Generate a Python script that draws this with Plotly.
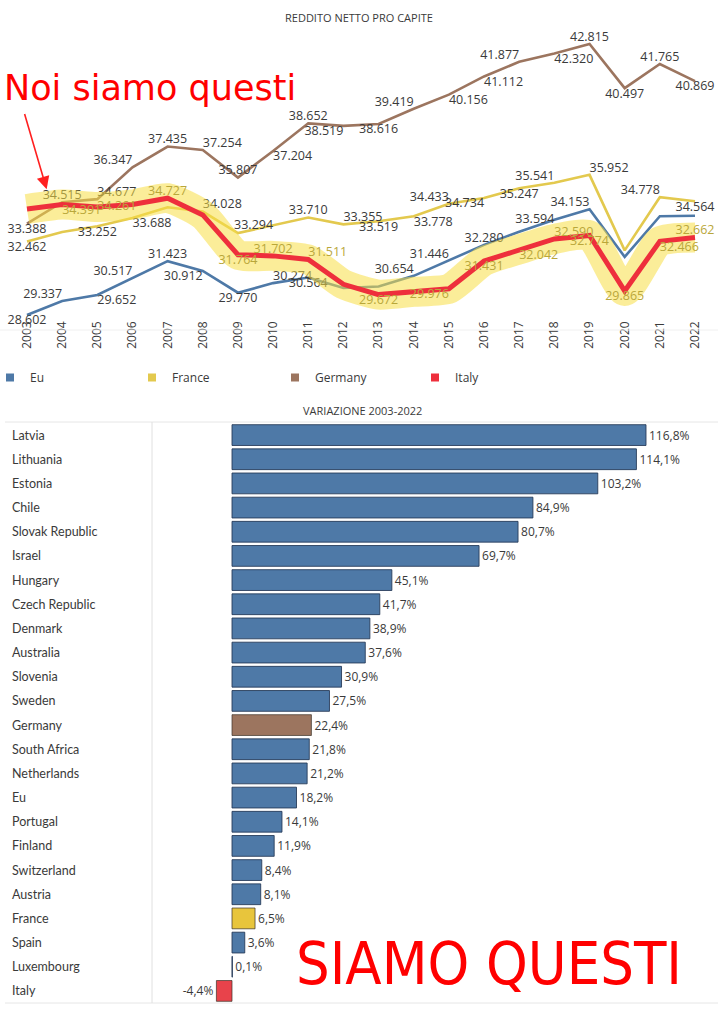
import plotly.graph_objects as go

# ---------------- data: line chart ----------------
years = [2003, 2004, 2005, 2006, 2007, 2008, 2009, 2010, 2011, 2012,
         2013, 2014, 2015, 2016, 2017, 2018, 2019, 2020, 2021, 2022]
eu = [28.602, 29.337, 29.652, 30.517, 31.423, 30.912, 29.770, 30.274, 30.564, 30.02,
      30.10, 30.654, 31.446, 32.280, 32.97, 33.594, 34.153, 31.65, 33.78, 33.81]
france = [32.462, 32.95, 33.252, 33.688, 34.25, 34.028, 32.90, 33.294, 33.710, 33.355,
          33.519, 33.778, 34.433, 34.734, 35.247, 35.541, 35.952, 31.99, 34.778, 34.564]
germany = [33.388, 34.515, 34.677, 36.347, 37.435, 37.254, 35.807, 37.204, 38.652, 38.519,
           38.616, 39.419, 40.156, 41.112, 41.877, 42.320, 42.815, 40.497, 41.765, 40.869]
italy = [34.16, 34.391, 34.261, 34.40, 34.727, 33.85, 31.764, 31.702, 31.511, 30.21,
         29.672, 29.82, 29.976, 31.431, 32.042, 32.590, 32.774, 29.865, 32.466, 32.662]

# label placement per point (T/B/M = top/bottom/middle, C/L/R = center/left/right, - = none)
eu_lab = "BC TL BR TL TC BL BC TR BC - - TL TL TC - ML TL - - -".split()
fr_lab = "BC - BC BR - TR - ML TC TR BC BR TL BL BC TL TR - TL BC".split()
de_lab = "BC TC TR TL TC TR TC BR TC BL BC TL BR BR TL BR TC BC TC BC".split()
it_lab = "- BR MR - TC - BC TC TR - BC - BL BC BR TR BC BC BR TC".split()

# ---------------- data: bar chart ----------------
countries = ["Latvia", "Lithuania", "Estonia", "Chile", "Slovak Republic", "Israel",
             "Hungary", "Czech Republic", "Denmark", "Australia", "Slovenia", "Sweden",
             "Germany", "South Africa", "Netherlands", "Eu", "Portugal", "Finland",
             "Switzerland", "Austria", "France", "Spain", "Luxembourg", "Italy"]
variation = [116.8, 114.1, 103.2, 84.9, 80.7, 69.7, 45.1, 41.7, 38.9, 37.6, 30.9, 27.5,
             22.4, 21.8, 21.2, 18.2, 14.1, 11.9, 8.4, 8.1, 6.5, 3.6, 0.1, -4.4]

# ---------------- styles ----------------
C_EU = "#4e79a7"
C_FR = "#e3c94e"
C_DE = "#9c755f"
C_IT = "#ee2f3c"
HILITE = "rgba(247,222,70,0.55)"
TXT = "#3a3a3a"
FONT = "Open Sans"
W, H = 718, 1024

VPOS = {"T": "top", "B": "bottom", "M": "middle"}
HPOS = {"C": "center", "L": "left", "R": "right"}


def texts(vals, lab):
    return [f"{v:.3f}" if p != "-" else "" for v, p in zip(vals, lab)]


def positions(lab):
    return [VPOS[p[0]] + " " + HPOS[p[1]] if p != "-" else "top center" for p in lab]


fig = go.Figure()

for name, vals, lab, col in [("Eu", eu, eu_lab, C_EU),
                             ("France", france, fr_lab, C_FR),
                             ("Germany", germany, de_lab, C_DE)]:
    fig.add_trace(go.Scatter(
        x=years, y=vals, mode="lines+text", name=name,
        line=dict(color=col, width=2.6),
        text=texts(vals, lab), textposition=positions(lab),
        textfont=dict(family=FONT, size=12.5, color=TXT),
        cliponaxis=False, showlegend=False, xaxis="x", yaxis="y"))

# highlighter band along Italy
fig.add_trace(go.Scatter(
    x=years, y=italy, mode="lines",
    line=dict(color=HILITE, width=30, shape="spline", smoothing=0.6),
    hoverinfo="skip", showlegend=False, cliponaxis=False, xaxis="x", yaxis="y"))

# Italy (red pen)
fig.add_trace(go.Scatter(
    x=years, y=italy, mode="lines+text", name="Italy",
    line=dict(color=C_IT, width=5),
    text=texts(italy, it_lab), textposition=positions(it_lab),
    textfont=dict(family=FONT, size=12.5, color="#b9a73a"),
    cliponaxis=False, showlegend=False, xaxis="x", yaxis="y"))

# legend entries (square swatches), one legend box per entry
legend_items = [("Eu", C_EU, "legend"), ("France", C_FR, "legend2"),
                ("Germany", C_DE, "legend3"), ("Italy", C_IT, "legend4")]
for name, col, lg in legend_items:
    fig.add_trace(go.Scatter(
        x=[None], y=[None], mode="markers", name=name,
        marker=dict(symbol="square", size=8, color=col),
        showlegend=True, legend=lg, xaxis="x", yaxis="y"))

# ---------------- bars ----------------
special = {"Germany": C_DE, "France": "#e8c53c", "Italy": "#e8434b"}
bar_colors = [special.get(c, C_EU) for c in countries]
line_colors = ["rgba(60,50,40,0.7)" if c in special else "rgba(35,55,85,0.85)" for c in countries]
fig.add_trace(go.Bar(
    x=variation, y=countries, orientation="h",
    marker=dict(color=bar_colors, line=dict(color=line_colors, width=1)),
    text=[f"{v:.1f}%".replace(".", ",") for v in variation],
    textposition="outside", constraintext="none",
    textfont=dict(family=FONT, size=12, color=TXT),
    cliponaxis=False, showlegend=False, width=0.86,
    xaxis="x2", yaxis="y2"))

# ---------------- geometry ----------------
px_per_year = (695 - 27) / 19.0
x_lo = years[0] - 27 / px_per_year
x_hi = years[-1] + (W - 695) / px_per_year
ppu = 19.07
y_top_px, y_bot_px = 30, 318
y_lo = eu[0] - (y_bot_px - 315) / ppu
y_hi = eu[0] + (315 - y_top_px) / ppu

bar_ppu = (646 - 232) / 116.8
bx_lo = -(232 - 152) / bar_ppu
bx_hi = (W - 232) / bar_ppu

annotations = [
    dict(text="REDDITO NETTO PRO CAPITE", x=359 / W, y=1 - 17 / H, xref="paper", yref="paper",
         yanchor="middle", showarrow=False, font=dict(family=FONT, size=11, color=TXT)),
    dict(text="VARIAZIONE 2003-2022", x=362 / W, y=1 - 410 / H, xref="paper", yref="paper",
         yanchor="middle", showarrow=False, font=dict(family=FONT, size=11, color=TXT)),
    dict(text="Noi siamo questi", x=2 / W, y=1 - 88 / H, xref="paper", yref="paper",
         xanchor="left", yanchor="middle", showarrow=False,
         font=dict(family="DejaVu Sans", size=35, color="#ff0000")),
    dict(text="SIAMO QUESTI", x=489 / W, y=1 - 963 / H, xref="paper", yref="paper",
         xanchor="center", yanchor="middle", showarrow=False,
         font=dict(family="Liberation Sans Narrow, DejaVu Sans Condensed, Arial Narrow, sans-serif",
                   size=59, color="#ff0000")),
    dict(text="", x=years[1], y=italy[1], xref="x", yref="y", ax=-27, ay=-92, xshift=-11,
         showarrow=True, arrowhead=2, arrowsize=1.6, arrowwidth=1.6, arrowcolor="#ff2020",
         standoff=16),
]
for c in countries:
    annotations.append(dict(text=c, x=10 / W, y=c, xref="paper", yref="y2", xanchor="left",
                            showarrow=False, font=dict(family="Lato", size=12.5, color=TXT)))

shapes = [
    dict(type="line", xref="paper", yref="paper", x0=5 / W, x1=1, y0=1 - 422 / H, y1=1 - 422 / H,
         line=dict(color="#e6e6e6", width=1)),
    dict(type="line", xref="paper", yref="paper", x0=5 / W, x1=1, y0=1 - 1003 / H, y1=1 - 1003 / H,
         line=dict(color="#e6e6e6", width=1)),
    dict(type="line", xref="paper", yref="paper", x0=152 / W, x1=152 / W, y0=1 - 1003 / H, y1=1 - 422 / H,
         line=dict(color="#e0e0e0", width=1)),
    dict(type="line", xref="paper", yref="paper", x0=0, x1=1, y0=1 - 330 / H, y1=1 - 330 / H,
         line=dict(color="#f0f0f0", width=1)),
]

legend_px = [5, 147, 290, 430]
legend_common = dict(orientation="h", y=1 - 363 / H, xanchor="left", yanchor="top",
                     itemwidth=30, indentation=-15,
                     font=dict(family=FONT, size=12, color=TXT),
                     bgcolor="rgba(0,0,0,0)")

fig.update_layout(
    width=W, height=H, margin=dict(l=0, r=0, t=0, b=0, autoexpand=False),
    paper_bgcolor="white", plot_bgcolor="white",
    font=dict(family=FONT, color=TXT),
    xaxis=dict(domain=[0, 1], range=[x_lo, x_hi], tickmode="array", tickvals=years,
               ticktext=[str(y) for y in years], tickangle=-90, showgrid=False, zeroline=False,
               showline=False, ticks="", tickfont=dict(family=FONT, size=12, color=TXT),
               anchor="y"),
    yaxis=dict(domain=[1 - y_bot_px / H, 1 - y_top_px / H], range=[y_lo, y_hi], visible=False,
               anchor="x"),
    xaxis2=dict(domain=[152 / W, 1], range=[bx_lo, bx_hi], visible=False, anchor="y2"),
    yaxis2=dict(domain=[1 - 1003 / H, 1 - 423 / H], categoryorder="array",
                categoryarray=countries, autorange="reversed", visible=False, anchor="x2"),
    legend=dict(x=legend_px[0] / W, **legend_common),
    legend2=dict(x=legend_px[1] / W, **legend_common),
    legend3=dict(x=legend_px[2] / W, **legend_common),
    legend4=dict(x=legend_px[3] / W, **legend_common),
    annotations=annotations, shapes=shapes,
)

fig.write_html("out.html", config={"displayModeBar": False},
               post_script="document.body.style.margin='0px';")
